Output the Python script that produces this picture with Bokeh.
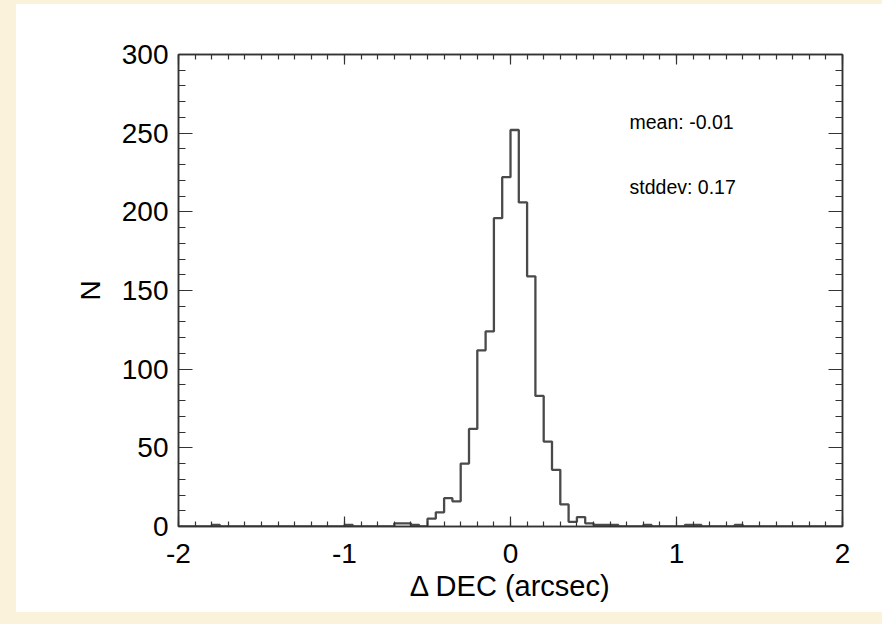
import numpy as np
from bokeh.plotting import figure
from bokeh.models import FixedTicker, LinearAxis, Range1d, Spacer, Label
from bokeh.layouts import row, column
from bokeh.embed import file_html
from bokeh.resources import INLINE

# ---- data ----
x_ticks = [-2, -1, 0, 1, 2]
x_tick_labels = ["-2", "-1", "0", "1", "2"]
y_ticks = [0, 50, 100, 150, 200, 250, 300]
y_tick_labels = ["0", "50", "100", "150", "200", "250", "300"]
x_label = "\u0394 DEC (arcsec)"
y_label = "N"

bin_width = 0.05
hist_start = -2.0
hist_stop = 2.0
bin_left = [-1.80, -1.00, -0.70, -0.65, -0.60, -0.50, -0.45, -0.40, -0.35, -0.30,
            -0.25, -0.20, -0.15, -0.10, -0.05, 0.00, 0.05, 0.10, 0.15, 0.20,
            0.25, 0.30, 0.35, 0.40, 0.45, 0.50, 0.55, 0.60, 0.80, 1.05,
            1.10, 1.35]
counts = [1, 1, 2, 2, 1, 5, 9, 18, 16, 40,
          62, 112, 124, 196, 222, 252, 206, 159, 83, 54,
          36, 14, 3, 6, 2, 1, 1, 1, 1, 1,
          1, 1]

stat_texts = ["mean: -0.01", "stddev: 0.17"]
stat_x = [0.717, 0.717]
stat_y = [257.0, 216.0]

# ---- build the full histogram (empty bins are zero) ----
n_bins = int(round((hist_stop - hist_start) / bin_width))
edges = np.array([hist_start + i * bin_width for i in range(n_bins + 1)])
full = np.zeros(n_bins)
for l, c in zip(bin_left, counts):
    full[int(round((l - hist_start) / bin_width))] = c
step_y = np.append(full, full[-1])

FONT = "Liberation Sans"
AX = "#333333"
BEIGE = "#fbf2dc"

p = figure(width=866, height=608,
           x_range=Range1d(-2, 2), y_range=Range1d(0, 300),
           output_backend="svg", toolbar_location=None,
           min_border_left=162, min_border_right=40,
           min_border_top=50, min_border_bottom=86,
           background_fill_color="white", border_fill_color="white",
           outline_line_color=AX, outline_line_width=1.5)
p.grid.visible = False

x_minor = [round(-2 + 0.1 * i, 2) for i in range(41)]
y_minor = list(range(0, 301, 10))
xt = FixedTicker(ticks=x_ticks, minor_ticks=x_minor)
yt = FixedTicker(ticks=y_ticks, minor_ticks=y_minor)

def style_axis(ax, major_in, minor_in):
    ax.axis_line_color = AX
    ax.axis_line_width = 1.5
    ax.major_tick_line_color = AX
    ax.minor_tick_line_color = AX
    ax.major_tick_line_width = 1.2
    ax.minor_tick_line_width = 1.2
    ax.major_tick_in = major_in
    ax.major_tick_out = 0
    ax.minor_tick_in = minor_in
    ax.minor_tick_out = 0
    ax.major_label_text_font = FONT
    ax.major_label_text_color = "black"
    ax.major_label_text_font_size = "28px"

xa = p.xaxis[0]
xa.ticker = xt
style_axis(xa, 10, 5)
xa.major_label_overrides = {t: s for t, s in zip(x_ticks, x_tick_labels)}
xa.major_label_standoff = 17
xa.axis_label = x_label
xa.axis_label_text_font = FONT
xa.axis_label_text_font_size = "29px"
xa.axis_label_text_font_style = "normal"
xa.axis_label_text_color = "black"
xa.axis_label_standoff = 4

ya = p.yaxis[0]
ya.ticker = yt
style_axis(ya, 14, 7)
ya.major_label_overrides = {t: s for t, s in zip(y_ticks, y_tick_labels)}
ya.major_label_standoff = 10
ya.axis_label = y_label
ya.axis_label_text_font = FONT
ya.axis_label_text_font_size = "28px"
ya.axis_label_text_font_style = "normal"
ya.axis_label_text_color = "black"
ya.axis_label_standoff = 13

top = LinearAxis(ticker=xt)
style_axis(top, 10, 5)
top.major_label_overrides = {t: "" for t in x_ticks}
top.major_label_standoff = 0
p.add_layout(top, "above")
right = LinearAxis(ticker=yt)
style_axis(right, 14, 7)
right.major_label_overrides = {t: "" for t in y_ticks}
right.major_label_standoff = 0
p.add_layout(right, "right")

p.step(x=edges, y=step_y, mode="after", line_color="#4a4a4a", line_width=2.3)

for t, xx, yy in zip(stat_texts, stat_x, stat_y):
    p.add_layout(Label(x=xx, y=yy, text=t, text_font=FONT, text_font_size="19.5px",
                       text_color="black", text_baseline="middle", text_align="left"))

top_pad = Spacer(width=882, height=4, styles={"background-color": BEIGE})
left_pad = Spacer(width=16, height=608, styles={"background-color": BEIGE})
bottom_pad = Spacer(width=882, height=12, styles={"background-color": BEIGE})
layout = column(top_pad, row(left_pad, p, styles={"background-color": "white"}), bottom_pad)

open("out.html", "w").write(file_html(layout, INLINE))
